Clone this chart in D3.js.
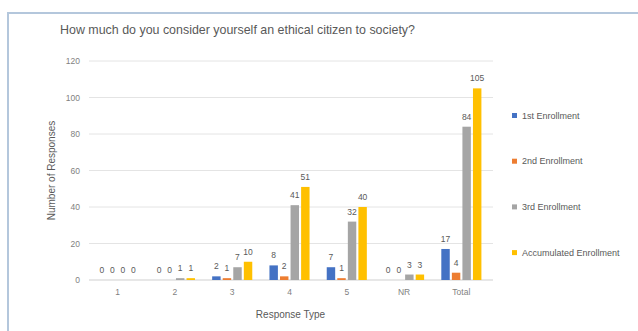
<!DOCTYPE html>
<html>
<head>
<meta charset="utf-8">
<script src="https://cdn.jsdelivr.net/npm/d3@7/dist/d3.min.js"></script>
<style>
  html, body { margin: 0; padding: 0; background: #fff; }
  svg { display: block; font-family: "Liberation Sans", Arial, sans-serif; }
</style>
</head>
<body>
<svg id="chart" width="638" height="331"></svg>
<script>
// Response categories and counts per enrollment
const categories = ["1", "2", "3", "4", "5", "NR", "Total"];
const seriesNames = ["1st Enrollment", "2nd Enrollment", "3rd Enrollment", "Accumulated Enrollment"];
const firstEnrollment = [0, 0, 2, 8, 7, 0, 17];
const secondEnrollment = [0, 0, 1, 2, 1, 0, 4];
const thirdEnrollment = [0, 1, 7, 41, 32, 3, 84];
const accumulatedEnrollment = [0, 1, 10, 51, 40, 3, 105];
const yTicks = [0, 20, 40, 60, 80, 100, 120];
const colors = ["#4472c4", "#ed7d31", "#a5a5a5", "#ffc000"];

const seriesValues = [firstEnrollment, secondEnrollment, thirdEnrollment, accumulatedEnrollment];

const svg = d3.select("#chart");

// Outer chart frame
svg.append("path")
  .attr("d", "M8,331 L8,13 L638,13")
  .attr("fill", "none")
  .attr("stroke", "#b4c7dc")
  .attr("stroke-width", 2);

svg.append("text")
  .attr("x", 60).attr("y", 34)
  .attr("font-size", 13.5)
  .attr("fill", "#595959")
  .attr("textLength", 355)
  .attr("lengthAdjust", "spacingAndGlyphs")
  .text("How much do you consider yourself an ethical citizen to society?");

const plot = { left: 89, right: 490, top: 61, bottom: 280 };

const x = d3.scaleBand().domain(categories).range([plot.left, plot.right]).paddingInner(0.3).paddingOuter(0.15);
const x1 = d3.scaleBand().domain(d3.range(seriesNames.length)).range([0, x.bandwidth()]).paddingInner(0.2);
const y = d3.scaleLinear().domain([0, 120]).range([plot.bottom, plot.top]);

// Gridlines
svg.append("g")
  .selectAll("line")
  .data(yTicks)
  .join("line")
  .attr("x1", plot.left).attr("x2", plot.right + 3)
  .attr("y1", d => y(d)).attr("y2", d => y(d))
  .attr("stroke", d => d === 0 ? "#cfcfcf" : "#e4e4e4")
  .attr("stroke-width", 1);

// Y axis labels
const yAxis = d3.axisLeft(y).tickValues(yTicks).tickSize(0).tickPadding(9);
svg.append("g")
  .attr("transform", `translate(${plot.left},0)`)
  .call(yAxis)
  .call(g => g.select(".domain").remove())
  .call(g => g.selectAll("text").attr("font-size", 8.5).attr("fill", "#7f7f7f").attr("font-family", "Liberation Sans, Arial, sans-serif"));

// X axis labels
const xAxis = d3.axisBottom(x).tickSize(0).tickPadding(9);
svg.append("g")
  .attr("transform", `translate(0,${plot.bottom})`)
  .call(xAxis)
  .call(g => g.select(".domain").remove())
  .call(g => g.selectAll("text").attr("font-size", 8.5).attr("fill", "#7f7f7f").attr("font-family", "Liberation Sans, Arial, sans-serif"));

// Bars and value labels
const groups = svg.append("g")
  .selectAll("g")
  .data(categories)
  .join("g")
  .attr("transform", d => `translate(${x(d)},0)`);

groups.selectAll("rect")
  .data((d, i) => seriesValues.map((s, k) => ({ k, v: s[i] })))
  .join("rect")
  .attr("x", d => x1(d.k))
  .attr("width", x1.bandwidth())
  .attr("y", d => y(d.v))
  .attr("height", d => y(0) - y(d.v))
  .attr("fill", d => colors[d.k]);

groups.selectAll("text")
  .data((d, i) => seriesValues.map((s, k) => ({ k, v: s[i] })))
  .join("text")
  .attr("x", d => x1(d.k) + x1.bandwidth() / 2)
  .attr("y", d => y(d.v) - 7)
  .attr("text-anchor", "middle")
  .attr("font-size", 8.5)
  .attr("fill", "#595959")
  .text(d => d.v);

// Axis titles
svg.append("text")
  .attr("transform", `translate(55,${(plot.top + plot.bottom) / 2}) rotate(-90)`)
  .attr("text-anchor", "middle")
  .attr("font-size", 10)
  .attr("fill", "#595959")
  .text("Number of Responses");

svg.append("text")
  .attr("x", (plot.left + plot.right) / 2 + 1).attr("y", 318)
  .attr("text-anchor", "middle")
  .attr("font-size", 10)
  .attr("fill", "#595959")
  .text("Response Type");

// Legend
const legend = svg.append("g")
  .selectAll("g")
  .data(seriesNames)
  .join("g")
  .attr("transform", (d, i) => `translate(512,${116 + i * 45.7})`);

legend.append("rect")
  .attr("x", 0).attr("y", -3).attr("width", 5).attr("height", 5)
  .attr("fill", (d, i) => colors[i]);

legend.append("text")
  .attr("x", 10).attr("y", 2.5)
  .attr("font-size", 9)
  .attr("fill", "#595959")
  .text(d => d);
</script>
</body>
</html>
